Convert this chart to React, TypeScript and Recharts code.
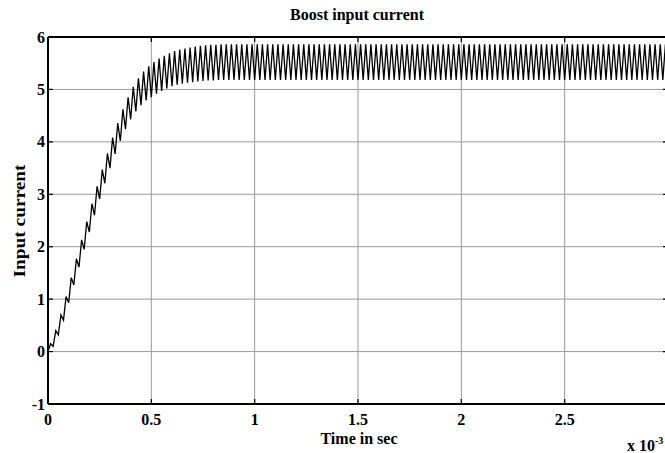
import { LineChart, Line, XAxis, YAxis, CartesianGrid } from "recharts";

// Boost converter input current, 0..3 ms, ~40 kHz switching ripple.
const PERIOD_MS = 0.025;
const DUTY = 0.5;

const xTicks = [0, 0.5, 1, 1.5, 2, 2.5, 3];
// the "3" label falls outside the cropped figure
const xTickLabels = ["0", "0.5", "1", "1.5", "2", "2.5", ""];
const yTicks = [-1, 0, 1, 2, 3, 4, 5, 6];

// valley of each switching cycle (start of on-time)
const troughs = [
  0.0, 0.1, 0.32, 0.6, 0.93, 1.27, 1.61, 1.95, 2.28, 2.6,
  2.91, 3.21, 3.5, 3.77, 4.02, 4.24, 4.43, 4.58, 4.7, 4.79,
  4.85, 4.92, 4.97, 5.02, 5.06, 5.09, 5.11, 5.13, 5.14, 5.15,
  5.16, 5.17, 5.17, 5.18, 5.18, 5.18, 5.18, 5.18, 5.18, 5.18,
  5.18, 5.18, 5.18, 5.18, 5.18, 5.18, 5.18, 5.18, 5.18, 5.18,
  5.18, 5.18, 5.18, 5.18, 5.18, 5.18, 5.18, 5.18, 5.18, 5.18,
  5.18, 5.18, 5.18, 5.18, 5.18, 5.18, 5.18, 5.18, 5.18, 5.18,
  5.18, 5.18, 5.18, 5.18, 5.18, 5.18, 5.18, 5.18, 5.18, 5.18,
  5.18, 5.18, 5.18, 5.18, 5.18, 5.18, 5.18, 5.18, 5.18, 5.18,
  5.18, 5.18, 5.18, 5.18, 5.18, 5.18, 5.18, 5.18, 5.18, 5.18,
  5.18, 5.18, 5.18, 5.18, 5.18, 5.18, 5.18, 5.18, 5.18, 5.18,
  5.18, 5.18, 5.18, 5.18, 5.18, 5.18, 5.18, 5.18, 5.18, 5.18,
  5.18,
];

// peak of each switching cycle (end of on-time)
const peaks = [
  0.15, 0.4, 0.7, 1.05, 1.41, 1.77, 2.13, 2.48, 2.82, 3.15,
  3.47, 3.78, 4.08, 4.36, 4.62, 4.85, 5.05, 5.21, 5.34, 5.44,
  5.52, 5.59, 5.64, 5.69, 5.73, 5.76, 5.78, 5.8, 5.82, 5.83,
  5.84, 5.85, 5.85, 5.86, 5.86, 5.86, 5.86, 5.86, 5.86, 5.86,
  5.86, 5.86, 5.86, 5.86, 5.86, 5.86, 5.86, 5.86, 5.86, 5.86,
  5.86, 5.86, 5.86, 5.86, 5.86, 5.86, 5.86, 5.86, 5.86, 5.86,
  5.86, 5.86, 5.86, 5.86, 5.86, 5.86, 5.86, 5.86, 5.86, 5.86,
  5.86, 5.86, 5.86, 5.86, 5.86, 5.86, 5.86, 5.86, 5.86, 5.86,
  5.86, 5.86, 5.86, 5.86, 5.86, 5.86, 5.86, 5.86, 5.86, 5.86,
  5.86, 5.86, 5.86, 5.86, 5.86, 5.86, 5.86, 5.86, 5.86, 5.86,
  5.86, 5.86, 5.86, 5.86, 5.86, 5.86, 5.86, 5.86, 5.86, 5.86,
  5.86, 5.86, 5.86, 5.86, 5.86, 5.86, 5.86, 5.86, 5.86, 5.86,
];

const data: { t: number; i: number }[] = [];
troughs.forEach((v, k) => {
  data.push({ t: Math.round(k * PERIOD_MS * 1e6) / 1e6, i: v });
  if (k < peaks.length) {
    data.push({ t: Math.round((k + DUTY) * PERIOD_MS * 1e6) / 1e6, i: peaks[k] });
  }
});

const FONT = '"Liberation Serif", "Times New Roman", serif';
const TICK_LEN = 5;

function BottomTick(props: any) {
  const { x, y, index } = props;
  return (
    <g>
      <line x1={x} y1={y} x2={x} y2={y - TICK_LEN} stroke="#000" strokeWidth={1.2} />
      <text x={x} y={y + 21} textAnchor="middle" fontFamily={FONT} fontWeight="bold" fontSize={16} fill="#000">
        {xTickLabels[index]}
      </text>
    </g>
  );
}

function LeftTick(props: any) {
  const { x, y, payload } = props;
  return (
    <g>
      <line x1={x} y1={y} x2={x + TICK_LEN} y2={y} stroke="#000" strokeWidth={1.2} />
      <text x={x - 3} y={y + 5.5} textAnchor="end" fontFamily={FONT} fontWeight="bold" fontSize={16} fill="#000">
        {payload.value}
      </text>
    </g>
  );
}

function TopTick(props: any) {
  const { x, y } = props;
  return <line x1={x} y1={y} x2={x} y2={y + TICK_LEN} stroke="#000" strokeWidth={1.2} />;
}

function RightTick(props: any) {
  const { x, y } = props;
  return <line x1={x} y1={y} x2={x - TICK_LEN} y2={y} stroke="#000" strokeWidth={1.2} />;
}

export default function App() {
  return (
    <div style={{ position: "absolute", left: 0, top: 0, width: 665, height: 453, overflow: "hidden", background: "#fff" }}>
      <LineChart width={680} height={453} data={data} margin={{ top: 36, right: 11, bottom: 48, left: 47 }}>
        <CartesianGrid stroke="#9a9a9a" strokeWidth={1} />
        <XAxis
          dataKey="t"
          type="number"
          domain={[0, 3]}
          ticks={xTicks}
          allowDataOverflow
          height={1}
          tickSize={0}
          tickMargin={0}
          tickLine={false}
          axisLine={{ stroke: "#000", strokeWidth: 2 }}
          tick={<BottomTick />}
          interval={0}
        />
        <XAxis
          xAxisId="top"
          orientation="top"
          dataKey="t"
          type="number"
          domain={[0, 3]}
          ticks={xTicks}
          allowDataOverflow
          height={1}
          tickSize={0}
          tickMargin={0}
          tickLine={false}
          axisLine={{ stroke: "#000", strokeWidth: 2 }}
          tick={<TopTick />}
          interval={0}
        />
        <YAxis
          domain={[-1, 6]}
          ticks={yTicks}
          allowDataOverflow
          width={1}
          tickSize={0}
          tickMargin={0}
          tickLine={false}
          axisLine={{ stroke: "#000", strokeWidth: 2 }}
          tick={<LeftTick />}
          interval={0}
        />
        <YAxis
          yAxisId="right"
          orientation="right"
          domain={[-1, 6]}
          ticks={yTicks}
          allowDataOverflow
          width={1}
          tickSize={0}
          tickMargin={0}
          tickLine={false}
          axisLine={{ stroke: "#000", strokeWidth: 2 }}
          tick={<RightTick />}
          interval={0}
        />
        <Line
          type="linear"
          dataKey="i"
          stroke="#000"
          strokeWidth={1.3}
          dot={false}
          isAnimationActive={false}
        />
      </LineChart>
      <svg width={665} height={453} style={{ position: "absolute", left: 0, top: 0, pointerEvents: "none" }}>
        <text x={357} y={20} textAnchor="middle" fontFamily={FONT} fontWeight="bold" fontSize={16} fill="#000">
          Boost input current
        </text>
        <text x={359} y={444} textAnchor="middle" fontFamily={FONT} fontWeight="bold" fontSize={16} fill="#000">
          Time in sec
        </text>
        <text
          x={0}
          y={0}
          transform="translate(25,221) rotate(-90)"
          textAnchor="middle"
          fontFamily={FONT}
          fontWeight="bold"
          fontSize={16}
          textLength={113}
          lengthAdjust="spacingAndGlyphs"
          fill="#000"
        >
          Input current
        </text>
        <text x={627} y={451} fontFamily={FONT} fontWeight="bold" fontSize={16} fill="#000">
          x 10
          <tspan dy={-7} fontSize={10}>-3</tspan>
        </text>
      </svg>
    </div>
  );
}
